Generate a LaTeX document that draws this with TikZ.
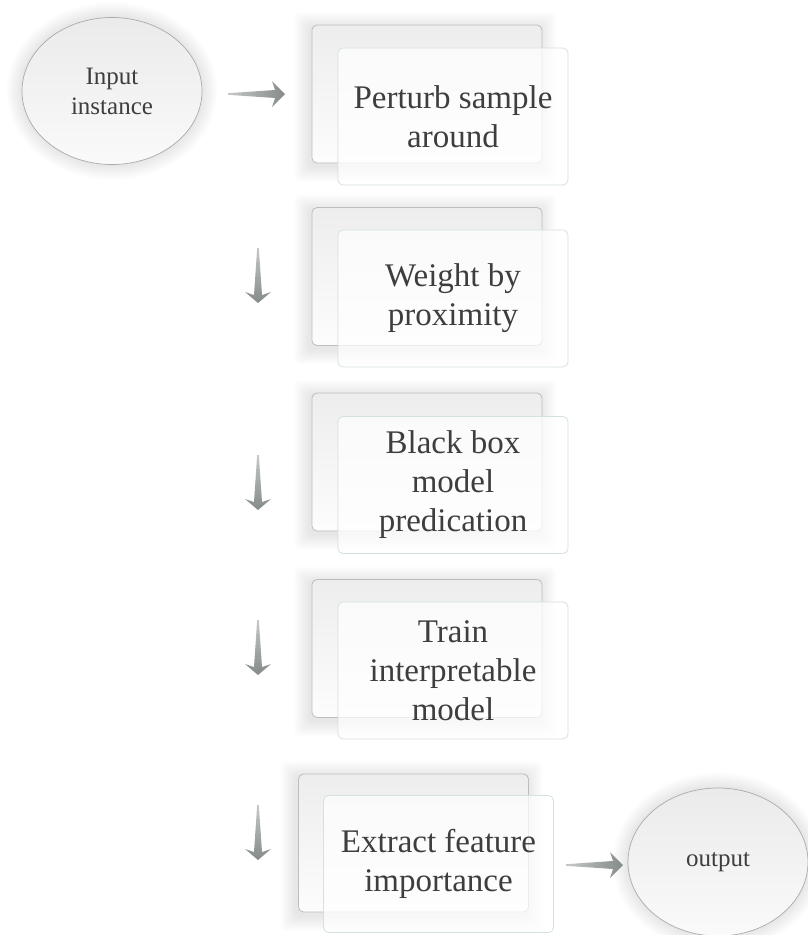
\documentclass[tikz,border=0pt]{standalone}
\usepackage{fontspec}
\setmainfont{Liberation Serif}
\usetikzlibrary{shapes.geometric,backgrounds}
\definecolor{txt}{HTML}{3E3E3E}
\definecolor{backedge}{HTML}{BDBDBD}
\definecolor{frontedge}{HTML}{D3E2DE}
\definecolor{ovaledge}{HTML}{ABABAB}
\definecolor{arrowdark}{HTML}{858B88}
\definecolor{arrowlight}{HTML}{C4C8C6}
\tikzset{
  backcard/.style={draw=backedge, line width=0.8pt, rounded corners=5pt,
    minimum width=230pt, minimum height=138pt, top color=black!7, bottom color=black!1},
  frontcard/.style={draw=frontedge, line width=0.8pt, rounded corners=5pt,
    minimum width=230pt, minimum height=137pt, fill=white, fill opacity=0.72,
    text opacity=1, text=txt, align=center, font=\fontsize{33}{39}\selectfont},
  oval/.style={ellipse, draw=ovaledge, line width=0.7pt, top color=black!8, bottom color=black!2,
    minimum width=180pt, minimum height=147pt, text=txt, align=center,
    font=\fontsize{25}{30}\selectfont},
  glow/.style={fill=black, opacity=0.009},
  pics/harrow/.style={code={
    \shade[left color=arrowlight, right color=arrowdark]
      (0,0.8) -- (47,4) -- (44,13) -- (57,0) -- (44,-13) -- (47,-4) -- (0,-0.8) -- cycle;}},
  pics/varrow/.style={code={
    \shade[top color=arrowlight, bottom color=arrowdark]
      (0.8,0) -- (4,47) -- (13,44) -- (0,55) -- (-13,44) -- (-4,47) -- (-0.8,0) -- cycle;}},
}
% soft halo behind a card
\newcommand\cardglow[1]{%
  \foreach \d in {1,...,12}{%
    \fill[glow, rounded corners=6pt]
      ([shift={(-\d*1.3-2,-\d*1.3+3)}]#1.north west) rectangle
      ([shift={(\d*1.3-2,\d*1.3+3)}]#1.south east);}}
% soft halo behind an oval
\newcommand\ovalglow[3]{%
  \foreach \d in {1,...,12}{%
    \fill[glow] (#1.center) ellipse [x radius=#2+\d*1.3, y radius=#3+\d*1.3];}}
\begin{document}
\begin{tikzpicture}[x=1pt, y=-1pt]
\useasboundingbox (0,0) rectangle (808,935);

% start and end ovals
\node[oval] (in) at (112,91) {Input\\instance};
\node[oval, minimum height=148pt] (out) at (718,862) {output};

% stacked cards of the five steps
\node[backcard] (k1) at (427,94) {};
\node[frontcard] (b1) at (453,116.5) {Perturb sample\\around};
\node[backcard] (k2) at (427,276.5) {};
\node[frontcard] (b2) at (453,298.5) {Weight by\\proximity};
\node[backcard] (k3) at (427,462) {};
\node[frontcard] (b3) at (453,485) {Black box\\model\\predication};
\node[backcard] (k4) at (427,648.5) {};
\node[frontcard] (b4) at (453,670.5) {Train\\interpretable\\model};
\node[backcard] (k5) at (413.5,843) {};
\node[frontcard] (b5) at (438.5,864) {Extract feature\\importance};

\begin{scope}[on background layer]
  \fill[white] (0,0) rectangle (808,935);
  \ovalglow{in}{90}{73.5}
  \ovalglow{out}{90}{74}
  \cardglow{k1}
  \cardglow{k2}
  \cardglow{k3}
  \cardglow{k4}
  \cardglow{k5}
\end{scope}

% arrow anchors
\coordinate (a1) at (228,94);
\coordinate (a2) at (258,248);
\coordinate (a3) at (258,455);
\coordinate (a4) at (258,620);
\coordinate (a5) at (258,805);
\coordinate (a6) at (566,865);

\pic at (a1) {harrow};
\pic at (a2) {varrow};
\pic at (a3) {varrow};
\pic at (a4) {varrow};
\pic at (a5) {varrow};
\pic at (a6) {harrow};
\end{tikzpicture}
\end{document}
